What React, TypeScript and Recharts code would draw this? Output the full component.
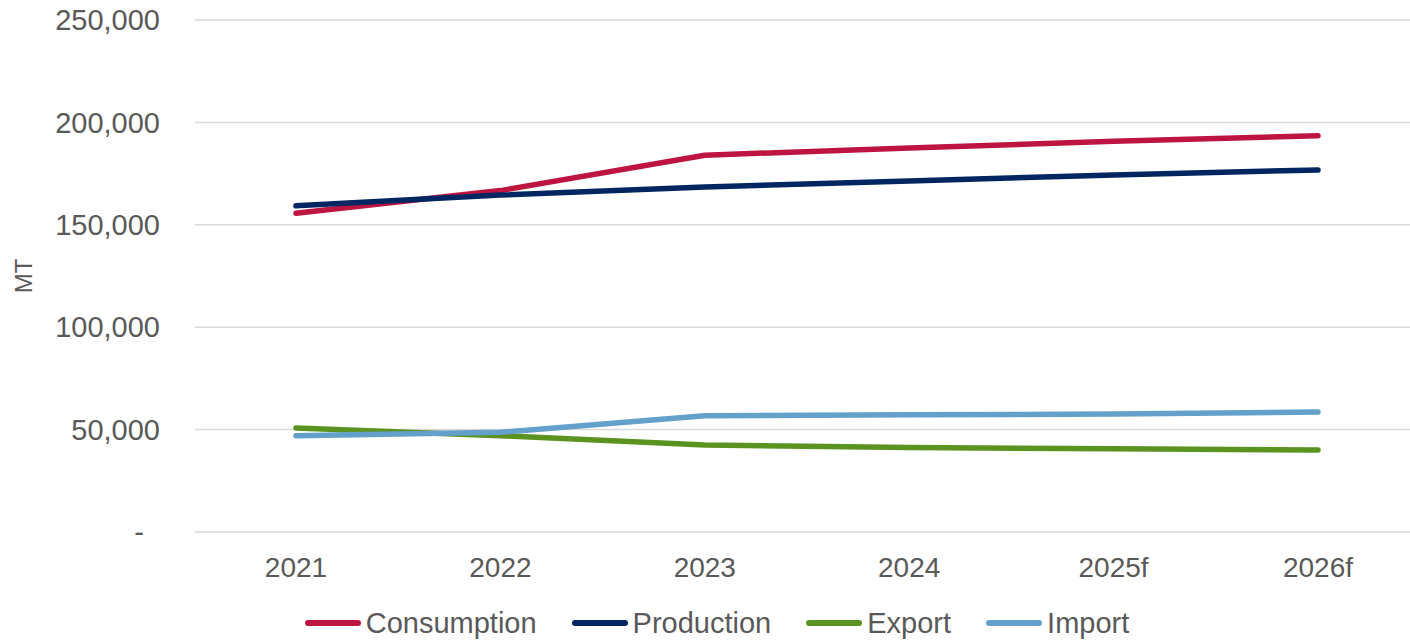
import React from "react";
import {
  LineChart,
  Line,
  XAxis,
  YAxis,
  CartesianGrid,
  Legend,
} from "recharts";

const years = ["2021", "2022", "2023", "2024", "2025f", "2026f"];

const consumption = [155600, 166700, 184000, 187500, 190800, 193500];
const production = [159300, 164500, 168500, 171400, 174300, 176800];
const exportVals = [50800, 47000, 42500, 41300, 40600, 40000];
const importVals = [47000, 48700, 56800, 57200, 57600, 58600];

const yTicks = [0, 50000, 100000, 150000, 200000, 250000];

const SERIES = [
  { key: "Consumption", color: "#BE1540" },
  { key: "Production", color: "#002662" },
  { key: "Export", color: "#5B9321" },
  { key: "Import", color: "#63A0CA" },
];

const data = years.map((year, i) => ({
  year,
  Consumption: consumption[i],
  Production: production[i],
  Export: exportVals[i],
  Import: importVals[i],
}));

const FONT = '"Liberation Sans", Arial, sans-serif';
const TEXT = "#595959";

const formatValue = (v: number) => (v === 0 ? "-" : v.toLocaleString("en-US"));

// y tick: Excel accounting style puts the dash a bit left of the numbers
const YTick = ({ x, y, payload }: any) => (
  <text
    x={payload.value === 0 ? x - 16 : x}
    y={y}
    dy="0.355em"
    textAnchor="end"
    fill={TEXT}
    fontSize={29}
    fontFamily={FONT}
  >
    {formatValue(payload.value)}
  </text>
);

const AxisTitle = ({ viewBox }: any) => {
  const cx = 32;
  const cy = viewBox.y + viewBox.height / 2;
  return (
    <text
      x={cx}
      y={cy}
      transform={`rotate(-90, ${cx}, ${cy})`}
      textAnchor="middle"
      fill={TEXT}
      fontSize={24}
      fontFamily={FONT}
    >
      MT
    </text>
  );
};

// legend drawn in series order (recharts would sort it otherwise)
const LegendContent = () => (
  <div
    style={{
      display: "flex",
      justifyContent: "center",
      alignItems: "center",
      height: 36,
      paddingLeft: 24,
      fontFamily: FONT,
      fontSize: 29,
      color: TEXT,
    }}
  >
    {SERIES.map((s, i) => (
      <div
        key={s.key}
        style={{
          display: "flex",
          alignItems: "center",
          marginLeft: i === 0 ? 0 : 35,
        }}
      >
        <span
          style={{
            display: "inline-block",
            width: 56,
            height: 6,
            borderRadius: 3,
            background: s.color,
            marginRight: 5,
          }}
        />
        <span>{s.key}</span>
      </div>
    ))}
  </div>
);

export default function App() {
  return (
    <div style={{ position: "absolute", left: 0, top: 0, background: "#fff" }}>
      <LineChart
        width={1410}
        height={641}
        data={data}
        margin={{ top: 20, right: 0, bottom: 0, left: 0 }}
      >
        <CartesianGrid
          vertical={false}
          stroke="#D9D9D9"
          strokeWidth={1.5}
        />
        <XAxis
          dataKey="year"
          axisLine={false}
          tickLine={false}
          tickSize={0}
          tickMargin={25}
          height={73}
          padding={{ left: 101, right: 92 }}
          tick={{ fill: TEXT, fontSize: 28, fontFamily: FONT }}
        />
        <YAxis
          domain={[0, 250000]}
          ticks={yTicks}
          axisLine={false}
          tickLine={false}
          tickSize={0}
          tickMargin={35}
          width={195}
          tick={<YTick />}
          label={{ value: "MT", content: <AxisTitle /> }}
        />
        <Legend verticalAlign="bottom" content={<LegendContent />} />
        {SERIES.map((s) => (
          <Line
            key={s.key}
            type="linear"
            dataKey={s.key}
            stroke={s.color}
            strokeWidth={5.5}
            strokeLinecap="round"
            strokeLinejoin="round"
            dot={false}
            activeDot={false}
            isAnimationActive={false}
          />
        ))}
      </LineChart>
    </div>
  );
}
